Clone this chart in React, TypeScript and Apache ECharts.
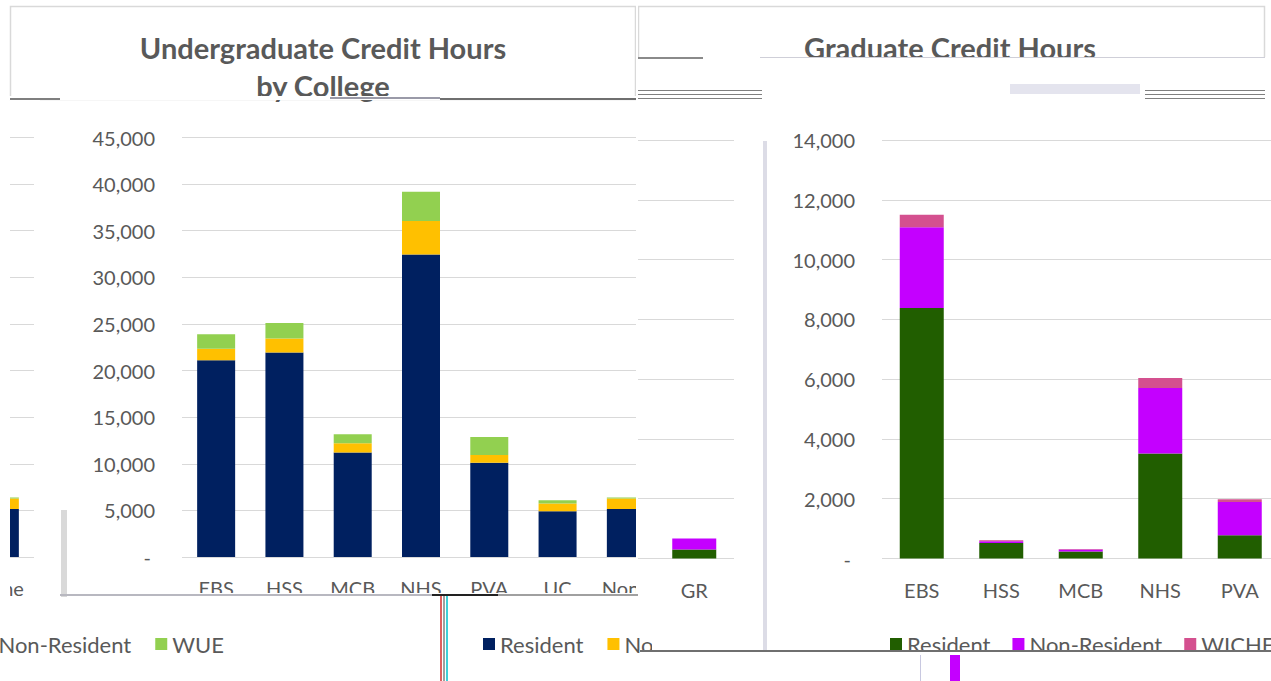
import React, { useEffect, useRef } from 'react';
import * as echarts from 'echarts';

// ---------- data ----------
const ugCategories = ['EBS', 'HSS', 'MCB', 'NHS', 'PVA', 'UC', 'None'];
const ugResident = [21100, 21950, 11200, 32450, 10100, 4900, 5150];
const ugNonResident = [1250, 1500, 1000, 3580, 850, 830, 1120];
const ugWUE = [1550, 1650, 960, 3150, 1920, 360, 120];
const ugAxisMax = 45000;
const ugAxisStep = 5000;

const grCategories = ['EBS', 'HSS', 'MCB', 'NHS', 'PVA', 'GR'];
const grResident = [8380, 520, 230, 3510, 780, 300];
const grNonResident = [2700, 60, 70, 2190, 1110, 370];
const grWICHE = [420, 30, 20, 340, 90, 0];
const grAxisMax = 14000;
const grAxisStep = 2000;

const ugTitle = ['Undergraduate Credit Hours', 'by College'];
const grTitle = ['Graduate Credit Hours'];

// ---------- styling ----------
const FONT = 'Lato, "Open Sans", sans-serif';
const TXT = '#595959';
const GRIDC = '#d9d9d9';

// which parts of a chart a clipped view draws; xFrom/xTo limit the category labels to those the view shows
type Parts = { title?: boolean; y?: boolean; x?: boolean; xFrom?: number; xTo?: number; legend?: boolean };

function yLabel(show: boolean) {
  return {
    show,
    fontSize: 20,
    color: TXT,
    fontFamily: FONT,
    margin: 27,
    formatter: (v: number) => (v === 0 ? '{z|-}' : v.toLocaleString('en-US')),
    rich: { z: { padding: [0, 4, 0, 0], fontSize: 20, color: TXT, fontFamily: FONT } },
  };
}

function xLabel(p: Parts) {
  const from = p.xFrom ?? 0;
  const to = p.xTo ?? 99;
  return {
    show: !!p.x,
    fontSize: 20,
    color: TXT,
    fontFamily: FONT,
    margin: 21,
    interval: (i: number) => i >= from && i <= to,
  };
}

function legendOpt(show: boolean, names: string[], left: number, gap: number) {
  return {
    show,
    data: names,
    left,
    top: 628,
    icon: 'rect',
    itemWidth: 12,
    itemHeight: 12,
    itemGap: gap,
    textStyle: { fontSize: 22, color: TXT, fontFamily: FONT },
  };
}

function ugOption(p: Parts) {
  return {
    animation: false,
    backgroundColor: '#fff',
    grid: { left: 182, top: 137.5, width: 478, height: 419.5 },
    legend: legendOpt(!!p.legend, ['Resident', 'Non-Resident', 'WUE'], 478, 24),
    xAxis: {
      type: 'category',
      data: ugCategories,
      axisLine: { show: false },
      axisTick: { show: false },
      axisLabel: xLabel(p),
    },
    yAxis: {
      type: 'value',
      min: 0,
      max: ugAxisMax,
      interval: ugAxisStep,
      axisLine: { show: false },
      axisTick: { show: false },
      splitLine: { lineStyle: { color: GRIDC, width: 1 } },
      axisLabel: yLabel(!!p.y),
    },
    series: [
      { name: 'Resident', type: 'bar', stack: 'u', barWidth: 38, data: ugResident, itemStyle: { color: '#002060' } },
      { name: 'Non-Resident', type: 'bar', stack: 'u', barWidth: 38, data: ugNonResident, itemStyle: { color: '#FFC000' } },
      { name: 'WUE', type: 'bar', stack: 'u', barWidth: 38, data: ugWUE, itemStyle: { color: '#92D050' } },
    ],
    graphic: p.title
      ? [
          { type: 'rect', shape: { x: 10.5, y: 6.5, width: 625, height: 93 }, style: { fill: 'none', stroke: GRIDC, lineWidth: 1.5 } },
          { type: 'text', x: 323, y: 47, style: { text: ugTitle[0], textAlign: 'center', textVerticalAlign: 'middle', font: `bold 29px ${FONT}`, fill: TXT } },
          { type: 'text', x: 323, y: 85, style: { text: ugTitle[1], textAlign: 'center', textVerticalAlign: 'middle', font: `bold 29px ${FONT}`, fill: TXT } },
        ]
      : [],
  };
}

function grOption(p: Parts) {
  return {
    animation: false,
    backgroundColor: '#fff',
    grid: { left: 882, top: 140, width: 477, height: 418.5 },
    legend: legendOpt(!!p.legend, ['Resident', 'Non-Resident', 'WICHE'], 885, 22),
    xAxis: {
      type: 'category',
      data: grCategories,
      axisLine: { show: false },
      axisTick: { show: false },
      axisLabel: xLabel(p),
    },
    yAxis: {
      type: 'value',
      min: 0,
      max: grAxisMax,
      interval: grAxisStep,
      axisLine: { show: false },
      axisTick: { show: false },
      splitLine: { lineStyle: { color: GRIDC, width: 1 } },
      axisLabel: yLabel(!!p.y),
    },
    series: [
      { name: 'Resident', type: 'bar', stack: 'g', barWidth: 44, data: grResident, itemStyle: { color: '#215E00' } },
      { name: 'Non-Resident', type: 'bar', stack: 'g', barWidth: 44, data: grNonResident, itemStyle: { color: '#C400FF' } },
      { name: 'WICHE', type: 'bar', stack: 'g', barWidth: 44, data: grWICHE, itemStyle: { color: '#D4508F' } },
    ],
    graphic: p.title
      ? [
          { type: 'rect', shape: { x: 638.5, y: 6.5, width: 626, height: 100 }, style: { fill: 'none', stroke: GRIDC, lineWidth: 1.5 } },
          { type: 'text', x: 950, y: 47, style: { text: grTitle[0], textAlign: 'center', textVerticalAlign: 'middle', font: `bold 29px ${FONT}`, fill: TXT } },
        ]
      : [],
  };
}

type Win = [number, number, number, number];

function ClipChart(props: { build: (p: Parts) => any; parts: Parts; win: Win; shift: [number, number]; size: [number, number] }) {
  const ref = useRef<HTMLDivElement>(null);
  const { win, shift, size } = props;
  useEffect(() => {
    const chart = echarts.init(ref.current!, null, { renderer: 'svg', width: size[0], height: size[1] });
    chart.setOption(props.build(props.parts));
    return () => chart.dispose();
  }, []);
  return (
    <div style={{ position: 'absolute', left: win[0], top: win[1], width: win[2], height: win[3], overflow: 'hidden', background: '#fff' }}>
      <div ref={ref} style={{ position: 'absolute', left: -shift[0] - win[0], top: -shift[1] - win[1], width: size[0], height: size[1] }} />
    </div>
  );
}

function Line(p: { x: number; y: number; w: number; h: number; c: string }) {
  return <div style={{ position: 'absolute', left: p.x, top: p.y, width: p.w, height: p.h, background: p.c }} />;
}

export default function App() {
  const SZ: [number, number] = [1400, 681];
  return (
    <div style={{ position: 'fixed', left: 0, top: 0, width: 1271, height: 681, background: '#fff', overflow: 'hidden' }}>
      {/* undergraduate chart, main view */}
      <ClipChart build={ugOption} parts={{ title: true, y: true, x: true }} win={[0, 0, 636, 593]} shift={[0, 0]} size={SZ} />
      <ClipChart build={ugOption} parts={{ legend: true }} win={[470, 597, 182, 84]} shift={[0, 0]} size={SZ} />
      {/* undergraduate chart, wrapped continuation */}
      <ClipChart build={ugOption} parts={{ x: true, xFrom: 6, xTo: 6 }} win={[10, 100, 30, 497]} shift={[626, 0]} size={SZ} />
      <ClipChart build={ugOption} parts={{ legend: true }} win={[0, 597, 240, 84]} shift={[626, 0]} size={SZ} />
      {/* graduate chart */}
      <ClipChart build={grOption} parts={{ title: true }} win={[638, 0, 633, 57]} shift={[0, 0]} size={SZ} />
      <ClipChart build={grOption} parts={{ y: true, x: true, xFrom: 0, xTo: 4, legend: true }} win={[770, 100, 501, 550]} shift={[0, 0]} size={SZ} />
      <ClipChart build={grOption} parts={{ x: true, xFrom: 5, xTo: 5 }} win={[638, 125, 102, 475]} shift={[625, 0]} size={SZ} />

      {/* collage seams */}
      <Line x={0} y={96} w={640} h={4} c="#fff" />
      <Line x={10} y={98} w={50} h={2} c="#7f7f7f" />
      <Line x={330} y={97} w={110} h={2} c="#9a9aa8" />
      <Line x={440} y={98} w={196} h={2} c="#6f6f6f" />
      <Line x={636} y={57} w={635} h={43} c="#fff" />
      <Line x={638} y={57} w={65} h={2} c="#8a8a8a" />
      <Line x={760} y={57} w={505} h={1} c="#cfcfd8" />
      <Line x={638} y={90} w={124} h={1} c="#7f7f7f" />
      <Line x={638} y={94} w={124} h={1} c="#7f7f7f" />
      <Line x={638} y={98} w={124} h={1} c="#7f7f7f" />
      <Line x={1010} y={84} w={130} h={10} c="#e4e4ee" />
      <Line x={1145} y={90} w={120} h={1} c="#7f7f7f" />
      <Line x={1145} y={94} w={120} h={1} c="#7f7f7f" />
      <Line x={1145} y={98} w={120} h={1} c="#7f7f7f" />
      <Line x={61} y={510} w={6} h={87} c="#d9d9d9" />
      <Line x={60} y={594} w={380} h={2} c="#b8b8c0" />
      <Line x={432} y={594} w={66} h={2} c="#222" />
      <Line x={498} y={594} w={140} h={2} c="#a0a0a0" />
      <Line x={440} y={596} w={2} h={85} c="#e06060" />
      <Line x={443} y={596} w={2} h={85} c="#a0a0a0" />
      <Line x={446} y={596} w={2} h={85} c="#40d0d8" />
      <Line x={763} y={141} w={4} h={540} c="#dcdce6" />
      <Line x={640} y={650} w={631} h={2} c="#6f6f6f" />
      <Line x={640} y={652} w={631} h={29} c="#fff" />
      <Line x={920} y={655} w={1} h={26} c="#c8c8e0" />
      <Line x={950} y={655} w={10} h={26} c="#C400FF" />
    </div>
  );
}
